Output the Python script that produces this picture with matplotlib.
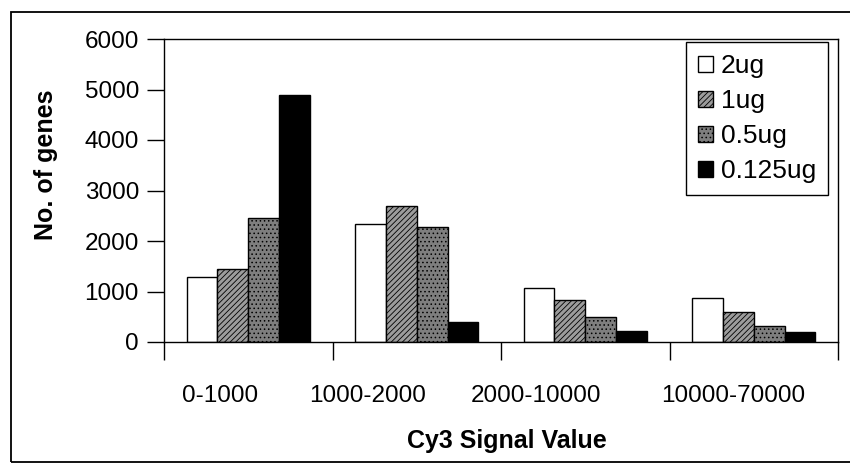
import matplotlib
matplotlib.use("Agg")
import matplotlib.pyplot as plt
from matplotlib.patches import Rectangle
import matplotlib.transforms as mtransforms
import numpy as np

plt.rcParams['font.family'] = ['Liberation Sans', 'DejaVu Sans']
plt.rcParams['hatch.linewidth'] = 0.6

categories = ['0-1000', '1000-2000', '2000-10000', '10000-70000']
series_names = ['2ug', '1ug', '0.5ug', '0.125ug']
v_2ug = [1290, 2330, 1060, 870]
v_1ug = [1450, 2700, 840, 590]
v_05ug = [2450, 2270, 500, 320]
v_0125ug = [4900, 400, 220, 200]
y_ticks = [0, 1000, 2000, 3000, 4000, 5000, 6000]

series = [v_2ug, v_1ug, v_05ug, v_0125ug]
faces = ['white', '#9c9c9c', '#7e7e7e', 'black']
hatches = [None, '//////', '....', None]
# horizontal shift of each category label as placed in the reference (layout only)
label_shift = [-0.17, -0.29, -0.29, -0.12]

W, H = 850, 466
fig = plt.figure(figsize=(W / 100, H / 100), dpi=100)

# outer frame
fig.patches.append(Rectangle((11 / W, 4 / H), 1.2, 1 - 12 / H - 4 / H,
                             transform=fig.transFigure, fill=False,
                             edgecolor='black', linewidth=1.3, zorder=0))

ax = fig.add_axes([164 / W, 1 - 342 / H, (838 - 164) / W, (342 - 39) / H])

x = np.arange(len(categories))
bw = 0.183
for i, (vals, name) in enumerate(zip(series, series_names)):
    ax.bar(x + (i - 1.5) * bw, vals, width=bw, color=faces[i],
           edgecolor='black', linewidth=1.0, hatch=hatches[i], label=name,
           zorder=2)

ax.set_xlim(-0.5, len(categories) - 0.5)
ax.set_ylim(0, 6000)
ax.set_yticks(y_ticks)
ax.set_yticklabels([str(t) for t in y_ticks], fontsize=17.5)
ax.tick_params(axis='y', direction='out', length=12, width=1, pad=6)

# category boundaries as major ticks (no labels)
ax.set_xticks(np.arange(len(categories) + 1) - 0.5)
ax.set_xticklabels([])
ax.tick_params(axis='x', which='major', direction='out', length=13, width=1)

# category names
trans = mtransforms.blended_transform_factory(ax.transData, ax.transAxes)
for xi, name, sh in zip(x, categories, label_shift):
    ax.text(xi + sh, (342 - 396) / 303, name, transform=trans, fontsize=17.5,
            ha='center', va='center')

for s in ax.spines.values():
    s.set_linewidth(1.0)

ax.set_ylabel('No. of genes', fontsize=18, fontweight='bold')
ax.yaxis.set_label_coords(-0.175, 0.584)
ax.set_xlabel('Cy3 Signal Value', fontsize=18, fontweight='bold')
ax.xaxis.set_label_coords(0.509, -0.327)
ax.xaxis.label.set_va('center')
ax.yaxis.label.set_va('center')

leg = ax.legend(loc='upper right', bbox_to_anchor=(0.985, 0.99),
                borderaxespad=0, fancybox=False, framealpha=1,
                edgecolor='black', fontsize=19, handlelength=0.55,
                handleheight=0.55, handletextpad=0.3, labelspacing=0.42,
                borderpad=0.45)
leg.get_frame().set_linewidth(1.0)

fig.savefig('out.png', dpi=100)
